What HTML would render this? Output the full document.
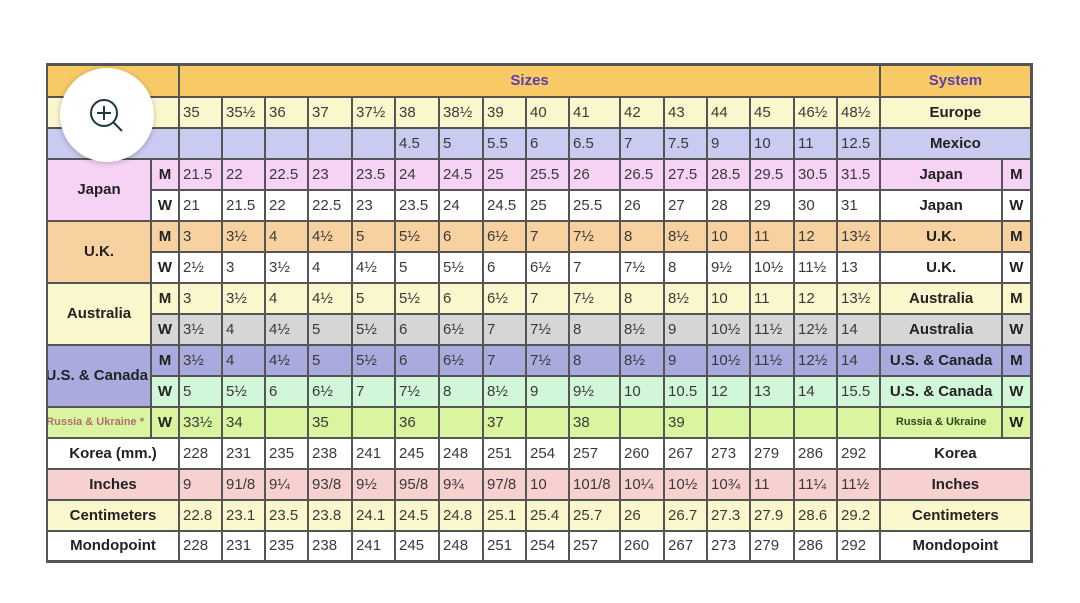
<!DOCTYPE html>
<html><head><meta charset="utf-8"><style>
html,body{margin:0;padding:0;background:#fff;width:1080px;height:603px;overflow:hidden;position:relative}
table{position:absolute;left:46px;top:63px;width:984px;border-collapse:collapse;table-layout:fixed;font-family:"Liberation Sans",sans-serif;font-size:15px;color:#3a3a3a;border-top:3px solid #555;border-right:3px solid #555;border-bottom:3px solid #555}
tr{height:31px}
tr.h{height:32px}
td{border:2px solid #555;padding:0 0 0 3px;white-space:nowrap;overflow:hidden;text-align:left}
td.l{font-weight:bold;text-align:center;padding:0;color:#222}
td.m{font-weight:bold;text-align:center;padding:0;color:#222}
td.s{font-weight:bold;text-align:center;padding:0;color:#222}
.clip{width:100px;overflow:hidden;white-space:nowrap;text-align:right;direction:rtl}
.or{background:#f8ca66}.ey{background:#fbf7cd}.mx{background:#cacbf0}.pk{background:#f6d3f5}.wh{background:#fff}
.uk{background:#f7d1a0}.gy{background:#d6d6d6}.us{background:#a9aade}.gr{background:#d2f6d8}.ru{background:#d9f59f}.in{background:#f7d0d0}
#mag{position:absolute;left:60px;top:68px;width:94px;height:94px;border-radius:50%;background:#fff;box-shadow:0 1px 6px rgba(0,0,0,.25)}
</style></head><body>
<table>
<colgroup><col style="width:104px"><col style="width:28px">
<col style="width:43px"><col style="width:43px"><col style="width:43px"><col style="width:44px"><col style="width:43px"><col style="width:44px"><col style="width:44px"><col style="width:43px"><col style="width:43px"><col style="width:51px"><col style="width:44px"><col style="width:43px"><col style="width:43px"><col style="width:44px"><col style="width:43px"><col style="width:43px">
<col style="width:122px"><col style="width:29px"></colgroup>
<tr class="h or"><td colspan="2" class="l">Sizes</td><td colspan="16" class="s" style="color:#5a3fa8">Sizes</td><td colspan="2" class="s" style="color:#5a3fa8">System</td></tr>
<tr class="ey"><td colspan="2"></td><td>35</td><td>35½</td><td>36</td><td>37</td><td>37½</td><td>38</td><td>38½</td><td>39</td><td>40</td><td>41</td><td>42</td><td>43</td><td>44</td><td>45</td><td>46½</td><td>48½</td><td colspan="2" class="s">Europe</td></tr>
<tr class="mx"><td colspan="2"></td><td></td><td></td><td></td><td></td><td></td><td>4.5</td><td>5</td><td>5.5</td><td>6</td><td>6.5</td><td>7</td><td>7.5</td><td>9</td><td>10</td><td>11</td><td>12.5</td><td colspan="2" class="s">Mexico</td></tr>
<tr class="pk"><td rowspan="2" class="l pk">Japan</td><td class="m">M</td><td>21.5</td><td>22</td><td>22.5</td><td>23</td><td>23.5</td><td>24</td><td>24.5</td><td>25</td><td>25.5</td><td>26</td><td>26.5</td><td>27.5</td><td>28.5</td><td>29.5</td><td>30.5</td><td>31.5</td><td class="s">Japan</td><td class="m">M</td></tr>
<tr class="wh"><td class="m">W</td><td>21</td><td>21.5</td><td>22</td><td>22.5</td><td>23</td><td>23.5</td><td>24</td><td>24.5</td><td>25</td><td>25.5</td><td>26</td><td>27</td><td>28</td><td>29</td><td>30</td><td>31</td><td class="s">Japan</td><td class="m">W</td></tr>
<tr class="uk"><td rowspan="2" class="l uk">U.K.</td><td class="m">M</td><td>3</td><td>3½</td><td>4</td><td>4½</td><td>5</td><td>5½</td><td>6</td><td>6½</td><td>7</td><td>7½</td><td>8</td><td>8½</td><td>10</td><td>11</td><td>12</td><td>13½</td><td class="s">U.K.</td><td class="m">M</td></tr>
<tr class="wh"><td class="m">W</td><td>2½</td><td>3</td><td>3½</td><td>4</td><td>4½</td><td>5</td><td>5½</td><td>6</td><td>6½</td><td>7</td><td>7½</td><td>8</td><td>9½</td><td>10½</td><td>11½</td><td>13</td><td class="s">U.K.</td><td class="m">W</td></tr>
<tr class="ey"><td rowspan="2" class="l ey">Australia</td><td class="m">M</td><td>3</td><td>3½</td><td>4</td><td>4½</td><td>5</td><td>5½</td><td>6</td><td>6½</td><td>7</td><td>7½</td><td>8</td><td>8½</td><td>10</td><td>11</td><td>12</td><td>13½</td><td class="s">Australia</td><td class="m">M</td></tr>
<tr class="gy"><td class="m">W</td><td>3½</td><td>4</td><td>4½</td><td>5</td><td>5½</td><td>6</td><td>6½</td><td>7</td><td>7½</td><td>8</td><td>8½</td><td>9</td><td>10½</td><td>11½</td><td>12½</td><td>14</td><td class="s">Australia</td><td class="m">W</td></tr>
<tr class="us"><td rowspan="2" class="l us"><div class="clip">U.S. &amp; Canada&#8206;</div></td><td class="m">M</td><td>3½</td><td>4</td><td>4½</td><td>5</td><td>5½</td><td>6</td><td>6½</td><td>7</td><td>7½</td><td>8</td><td>8½</td><td>9</td><td>10½</td><td>11½</td><td>12½</td><td>14</td><td class="s">U.S. &amp; Canada</td><td class="m">M</td></tr>
<tr class="gr"><td class="m">W</td><td>5</td><td>5½</td><td>6</td><td>6½</td><td>7</td><td>7½</td><td>8</td><td>8½</td><td>9</td><td>9½</td><td>10</td><td>10.5</td><td>12</td><td>13</td><td>14</td><td>15.5</td><td class="s">U.S. &amp; Canada</td><td class="m">W</td></tr>
<tr class="ru"><td class="l"><div class="clip" style="font-size:11px;color:#b07070;width:96px">Russia &amp; Ukraine *&#8206;</div></td><td class="m">W</td><td>33½</td><td>34</td><td></td><td>35</td><td></td><td>36</td><td></td><td>37</td><td></td><td>38</td><td></td><td>39</td><td></td><td></td><td></td><td></td><td class="s" style="font-size:11px;color:#2d4a1d">Russia &amp; Ukraine</td><td class="m">W</td></tr>
<tr class="wh"><td colspan="2" class="l">Korea (mm.)</td><td>228</td><td>231</td><td>235</td><td>238</td><td>241</td><td>245</td><td>248</td><td>251</td><td>254</td><td>257</td><td>260</td><td>267</td><td>273</td><td>279</td><td>286</td><td>292</td><td colspan="2" class="s">Korea</td></tr>
<tr class="in"><td colspan="2" class="l">Inches</td><td>9</td><td>91/8</td><td>9¼</td><td>93/8</td><td>9½</td><td>95/8</td><td>9¾</td><td>97/8</td><td>10</td><td>101/8</td><td>10¼</td><td>10½</td><td>10¾</td><td>11</td><td>11¼</td><td>11½</td><td colspan="2" class="s">Inches</td></tr>
<tr class="ey"><td colspan="2" class="l">Centimeters</td><td>22.8</td><td>23.1</td><td>23.5</td><td>23.8</td><td>24.1</td><td>24.5</td><td>24.8</td><td>25.1</td><td>25.4</td><td>25.7</td><td>26</td><td>26.7</td><td>27.3</td><td>27.9</td><td>28.6</td><td>29.2</td><td colspan="2" class="s">Centimeters</td></tr>
<tr class="wh"><td colspan="2" class="l">Mondopoint</td><td>228</td><td>231</td><td>235</td><td>238</td><td>241</td><td>245</td><td>248</td><td>251</td><td>254</td><td>257</td><td>260</td><td>267</td><td>273</td><td>279</td><td>286</td><td>292</td><td colspan="2" class="s">Mondopoint</td></tr>
</table>
<div id="mag"><svg width="94" height="94" viewBox="0 0 94 94"><circle cx="44" cy="45" r="13" fill="none" stroke="#1f3a3f" stroke-width="2"/><line x1="44" y1="38" x2="44" y2="52" stroke="#1f3a3f" stroke-width="2"/><line x1="37" y1="45" x2="51" y2="45" stroke="#1f3a3f" stroke-width="2"/><line x1="53.5" y1="54.5" x2="62" y2="63" stroke="#1f3a3f" stroke-width="2"/></svg></div>
</body></html>
